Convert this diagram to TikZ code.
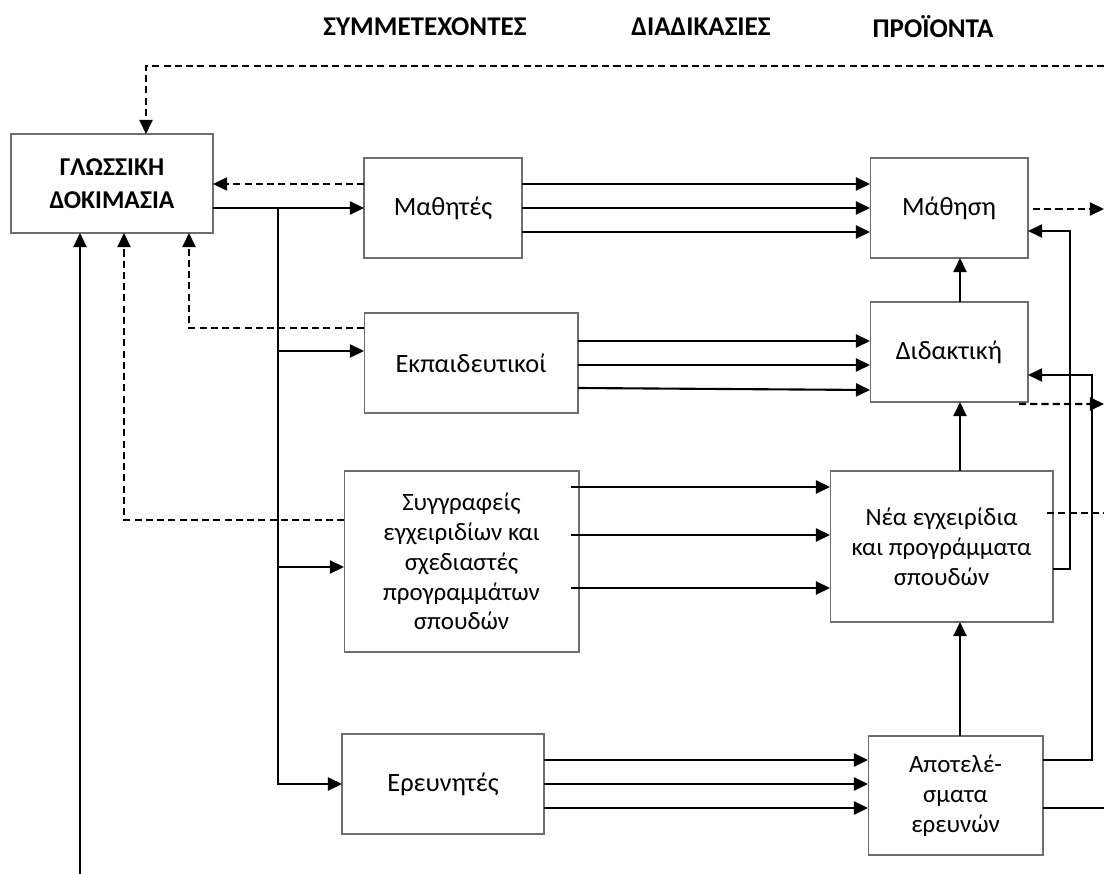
\documentclass[tikz,border=0pt]{standalone}
\usepackage{fontspec}
\setmainfont{Carlito}
\usetikzlibrary{arrows.meta,calc}
\definecolor{cline}{RGB}{0,0,0}
\definecolor{cbox}{RGB}{110,110,110}

\begin{document}
\begin{tikzpicture}[
  x=0.02cm, y=-0.02cm,
  >={Triangle[length=8pt,width=7.4pt]},
  box/.style={draw=cbox,line width=0.6pt,inner sep=2pt,outer sep=0pt,
              align=center,font=\fontsize{15}{18}\selectfont},
  boxsm/.style={box,font=\fontsize{14.2}{17}\selectfont},
  conn/.style={cline,line width=1.2pt},
  dconn/.style={conn,dash pattern=on 4pt off 2.4pt},
  head/.style={font=\fontsize{15.4}{18}\selectfont\bfseries},
]
\useasboundingbox (0,0) rectangle (1104,874);

% ===== column titles =====
\node[head] (hpart) at (425,27) {ΣΥΜΜΕΤΕΧΟΝΤΕΣ};
\node[head] (hproc) at (701,27) {ΔΙΑΔΙΚΑΣΙΕΣ};
\node[head] (hprod) at (933,27) {ΠΡΟΪΟΝΤΑ};

% ===== boxes =====
\node[box,font=\fontsize{14.6}{18.7}\selectfont\bfseries,
      minimum width=4.04cm,minimum height=1.98cm] (glossiki) at (112,183.5) {ΓΛΩΣΣΙΚΗ\\ΔΟΚΙΜΑΣΙΑ};
\node[box,minimum width=3.16cm,minimum height=2cm] (mathites) at (443,208) {Μαθητές};
\node[box,minimum width=4.28cm,minimum height=2cm] (ekpaid) at (471,363) {Εκπαιδευτικοί};
\node[boxsm,minimum width=4.7cm,minimum height=3.62cm] (syggr) at (461.5,561.5)
  {Συγγραφείς\\εγχειριδίων και\\σχεδιαστές\\προγραμμάτων\\σπουδών};
\node[box,minimum width=4.04cm,minimum height=2cm] (erevn) at (443,784) {Ερευνητές};
\node[box,minimum width=3.16cm,minimum height=2cm] (mathisi) at (949,208) {Μάθηση};
\node[box,minimum width=3.16cm,minimum height=2cm] (didakt) at (949,352) {Διδακτική};
\node[boxsm,minimum width=4.46cm,minimum height=3.02cm] (nea) at (941.5,546.5)
  {Νέα εγχειρίδια\\και προγράμματα\\σπουδών};
\node[boxsm,minimum width=3.5cm,minimum height=2.38cm] (apot) at (955.5,795.5)
  {Αποτελέ-\\σματα\\ερευνών};

\coordinate (rim) at (1104,66);
\coordinate (botL) at (80,874);
\coordinate (trunk) at (278,208);
\coordinate (syggrout) at ([xshift=-0.16cm]syggr.east);

% ===== feedback into the language test =====
\draw[dconn,->] (rim) -| (glossiki.north -| 146,0);
\draw[conn,->] (botL) -- (glossiki.south -| botL);
\draw[dconn,->] (mathites.west |- 0,184) -- (glossiki.east |- 0,184);
\draw[dconn,->] (ekpaid.west |- 0,328) -| (glossiki.south -| 189,0);
\draw[dconn,->] (syggr.west |- 0,520) -| (glossiki.south -| 124,0);

% ===== test to participants =====
\draw[conn,->] (glossiki.east |- mathites) -- (mathites.west);
\draw[conn,->] (trunk) |- (erevn.west);
\draw[conn,->] (trunk |- 0,351) -- (ekpaid.west |- 0,351);
\draw[conn,->] (trunk |- 0,567) -- (syggr.west |- 0,567);

% ===== participants to processes / products =====
\foreach \yy in {184,208,232}
  \draw[conn,->] (mathites.east |- 0,\yy) -- (mathisi.west |- 0,\yy);
\foreach \yy in {341,365}
  \draw[conn,->] (ekpaid.east |- 0,\yy) -- (didakt.west |- 0,\yy);
\draw[conn,->] (ekpaid.east |- 0,388) -- (didakt.west |- 0,390);
\foreach \yy in {487,535,588}
  \draw[conn,->] (syggrout |- 0,\yy) -- (nea.west |- 0,\yy);
\foreach \yy in {760,784,808}
  \draw[conn,->] (erevn.east |- 0,\yy) -- (apot.west |- 0,\yy);

% ===== upward chain =====
\draw[conn,->] (didakt.north -| 960,0) -- (mathisi.south -| 960,0);
\draw[conn,->] (nea.north -| 960,0) -- (didakt.south -| 960,0);
\draw[conn,->] (apot.north -| 960,0) -- (nea.south -| 960,0);

% ===== right side =====
\draw[conn,->] (nea.east |- 0,569) -- ++(17,0) |- (mathisi.east |- 0,231);
\draw[conn,->] (apot.east |- 0,760) -- ++(49,0) |- (didakt.east |- 0,375);
\draw[conn] (apot.east |- 0,808) -- (rim |- 0,808);
\draw[dconn,->] ($(mathisi.east)+(5,1)$) -- (rim |- 0,209);
\draw[dconn,->] ($(didakt.south east)+(-9,2)$) -- (rim |- 0,404);
\draw[dconn] ($(nea.east |- 0,513)+(-6,0)$) -- (rim |- 0,513);

\end{tikzpicture}
\end{document}
